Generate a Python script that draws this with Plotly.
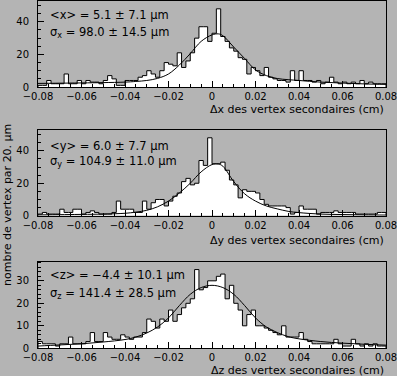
import plotly.graph_objects as go

# ---------------- data ----------------
BIN_LO, BIN_HI, BIN_W = -0.08, 0.08, 0.002  # 20 um bins

counts_x = [1, 1, 4, 2, 2, 2, 8, 2, 2, 4, 2, 4, 3, 3, 2, 4, 7, 5, 1, 1,
            4, 4, 4, 6, 7, 10, 8, 6, 10, 15, 14, 13, 21, 12, 16, 21, 30, 37, 37, 28,
            33, 48, 31, 28, 24, 22, 18, 17, 8, 12, 10, 7, 12, 6, 5, 4, 4, 3, 10, 4,
            10, 4, 4, 3, 4, 2, 3, 6, 3, 2, 3, 2, 3, 2, 4, 2, 3, 2, 2, 2]
counts_y = [1, 2, 1, 1, 1, 4, 2, 2, 4, 4, 1, 2, 3, 2, 1, 1, 1, 2, 9, 4,
            4, 4, 2, 2, 9, 4, 8, 10, 10, 6, 9, 12, 14, 21, 23, 19, 20, 34, 31, 48,
            32, 32, 33, 28, 22, 19, 11, 16, 15, 15, 14, 10, 7, 6, 6, 6, 6, 5, 1, 2,
            6, 4, 4, 4, 1, 2, 2, 2, 3, 2, 2, 2, 2, 1, 1, 1, 1, 1, 2, 2]
counts_z = [3, 2, 2, 2, 1, 2, 2, 5, 2, 2, 2, 3, 7, 3, 3, 7, 5, 4, 4, 6,
            5, 4, 5, 5, 7, 13, 12, 9, 13, 12, 17, 12, 15, 18, 20, 22, 35, 26, 27, 30,
            30, 32, 33, 22, 28, 20, 17, 10, 15, 17, 10, 10, 9, 8, 7, 6, 10, 5, 5, 5,
            7, 4, 3, 2, 2, 2, 2, 2, 4, 2, 1, 1, 4, 2, 1, 2, 1, 2, 1, 1]

# fitted curves
fit_x_pos = [-0.08, -0.06, -0.05, -0.04, -0.035, -0.03, -0.025, -0.02, -0.015, -0.01, -0.005,
             0.0, 0.003, 0.005, 0.01, 0.015, 0.02, 0.025, 0.03, 0.035, 0.04, 0.05, 0.06, 0.07, 0.08]
fit_x_val = [2.2, 2.5, 2.7, 3.0, 3.4, 4.0, 5.3, 8.0, 13.5, 20.5, 28.0,
             32.0, 32.6, 31.5, 24.5, 17.5, 10.5, 7.0, 5.2, 4.5, 4.0, 3.0, 2.4, 1.9, 1.6]
fit_y_pos = fit_x_pos
fit_y_val = [0.5, 0.8, 1.0, 1.5, 2.2, 3.3, 5.5, 9.0, 14.0, 20.0, 27.0,
             31.5, 31.8, 30.5, 21.0, 13.5, 9.0, 6.0, 4.2, 2.7, 1.9, 1.0, 0.7, 0.5, 0.4]
fit_z_pos = [-0.08, -0.07, -0.06, -0.05, -0.04, -0.035, -0.03, -0.025, -0.02, -0.015, -0.01, -0.005,
             0.0, 0.005, 0.01, 0.015, 0.02, 0.025, 0.03, 0.035, 0.04, 0.05, 0.06, 0.07, 0.08]
fit_z_val = [1.0, 1.5, 2.0, 2.8, 3.9, 5.0, 6.8, 9.5, 13.5, 19.0, 24.0, 27.0,
             28.0, 27.0, 24.0, 19.0, 13.5, 9.5, 7.0, 5.2, 4.2, 3.0, 2.3, 1.8, 1.4]

mean_labels = ["&lt;x&gt; = 5.1 ± 7.1 µm", "&lt;y&gt; = 6.0 ± 7.7 µm", "&lt;z&gt; = −4.4 ± 10.1 µm"]
sigma_labels = ["σ<sub>x</sub> = 98.0 ± 14.5 µm", "σ<sub>y</sub> = 104.9 ± 11.0 µm",
                "σ<sub>z</sub> = 141.4 ± 28.5 µm"]
x_titles = ["Δx des vertex secondaires (cm)", "Δy des vertex secondaires (cm)",
            "Δz des vertex secondaires (cm)"]
y_title = "nombre de vertex par 20. µm"
y_ranges = [[0, 52.8], [0, 52.8], [0, 38.5]]
y_dticks = [20, 20, 10]
y_minor = [5, 5, 2]

# ---------------- figure ----------------
W, H = 397, 376
GRAY = "#b4b4b4"
FONT = "DejaVu Sans"

x_dom = [38 / W, 386 / W]
# (top px, bottom px) of each plot area
panels_px = [(1, 87), (130, 215.7), (261.7, 348.3)]

nb = len(counts_x)
edges = [BIN_LO + BIN_W * i for i in range(nb)]

fig = go.Figure()
all_counts = [counts_x, counts_y, counts_z]
fits = [(fit_x_pos, fit_x_val), (fit_y_pos, fit_y_val), (fit_z_pos, fit_z_val)]

for k in range(3):
    xa = "x" if k == 0 else f"x{k+1}"
    ya = "y" if k == 0 else f"y{k+1}"
    c = all_counts[k]
    xs = [BIN_LO] + edges + [BIN_HI, BIN_HI]
    ys = [0] + c + [c[-1], 0]
    fig.add_trace(go.Scatter(x=xs, y=ys, mode="lines", line=dict(shape="hv", color="black", width=1),
                             fill="tozeroy", fillcolor="white", xaxis=xa, yaxis=ya,
                             hoverinfo="skip", showlegend=False))
    fx, fv = fits[k]
    fig.add_trace(go.Scatter(x=fx, y=fv, mode="lines",
                             line=dict(shape="spline", smoothing=1.0, color="black", width=1),
                             xaxis=xa, yaxis=ya, hoverinfo="skip", showlegend=False))

layout = dict(
    width=W, height=H, margin=dict(l=0, r=0, t=0, b=0, autoexpand=False),
    paper_bgcolor=GRAY, plot_bgcolor=GRAY,
    font=dict(family=FONT, size=10, color="black"),
    showlegend=False,
)

annotations = []
for k in range(3):
    top, bot = panels_px[k]
    y_dom = [1 - bot / H, 1 - top / H]
    xkey = "xaxis" if k == 0 else f"xaxis{k+1}"
    ykey = "yaxis" if k == 0 else f"yaxis{k+1}"
    xa = "x" if k == 0 else f"x{k+1}"
    ya = "y" if k == 0 else f"y{k+1}"
    layout[xkey] = dict(
        domain=x_dom, anchor=ya, range=[BIN_LO, BIN_HI], dtick=0.02, tick0=0,
        ticks="inside", ticklen=6, tickcolor="black", tickwidth=1,
        showline=True, linecolor="black", linewidth=1, mirror=True,
        showgrid=False, zeroline=False, ticklabelstandoff=0, automargin=False,
        ticklabeloverflow="allow",
        tickfont=dict(family=FONT, size=10, color="black"),
        minor=dict(dtick=0.005, ticklen=3, ticks="inside", tickcolor="black", showgrid=False),
    )
    layout[ykey] = dict(
        domain=y_dom, anchor=xa, range=y_ranges[k], dtick=y_dticks[k], tick0=0,
        ticks="inside", ticklen=6, tickcolor="black", tickwidth=1,
        showline=True, linecolor="black", linewidth=1, mirror=True,
        showgrid=False, zeroline=False, ticklabelstandoff=6, automargin=False,
        ticklabeloverflow="allow",
        tickfont=dict(family=FONT, size=10, color="black"),
        minor=dict(dtick=y_minor[k], ticklen=3, ticks="inside", tickcolor="black", showgrid=False),
    )

# text positions (px)
mean_y = [15, 146, 275]
sigma_y = [32.5, 161.5, 293]
xtitle_y = [109.5, 240.5, 370]
for k in range(3):
    annotations.append(dict(text=mean_labels[k], x=48 / W, y=1 - mean_y[k] / H, xref="paper", yref="paper",
                            xanchor="left", yanchor="middle", showarrow=False,
                            font=dict(family=FONT, size=11.5, color="black")))
    annotations.append(dict(text=sigma_labels[k], x=48 / W, y=1 - sigma_y[k] / H, xref="paper", yref="paper",
                            xanchor="left", yanchor="middle", showarrow=False,
                            font=dict(family=FONT, size=11.5, color="black")))
    annotations.append(dict(text=x_titles[k], x=386 / W, y=1 - xtitle_y[k] / H, xref="paper", yref="paper",
                            xanchor="right", yanchor="middle", showarrow=False,
                            font=dict(family=FONT, size=11, color="black")))
annotations.append(dict(text=y_title, x=7 / W, y=1 - 205 / H, xref="paper", yref="paper",
                        xanchor="center", yanchor="middle", textangle=-90, showarrow=False,
                        font=dict(family=FONT, size=11, color="black")))
layout["annotations"] = annotations

fig.update_layout(**layout)
fig.write_html("out.html", config={"displayModeBar": False, "staticPlot": True},
               post_script="document.body.style.margin='0';document.body.style.overflow='hidden';")
